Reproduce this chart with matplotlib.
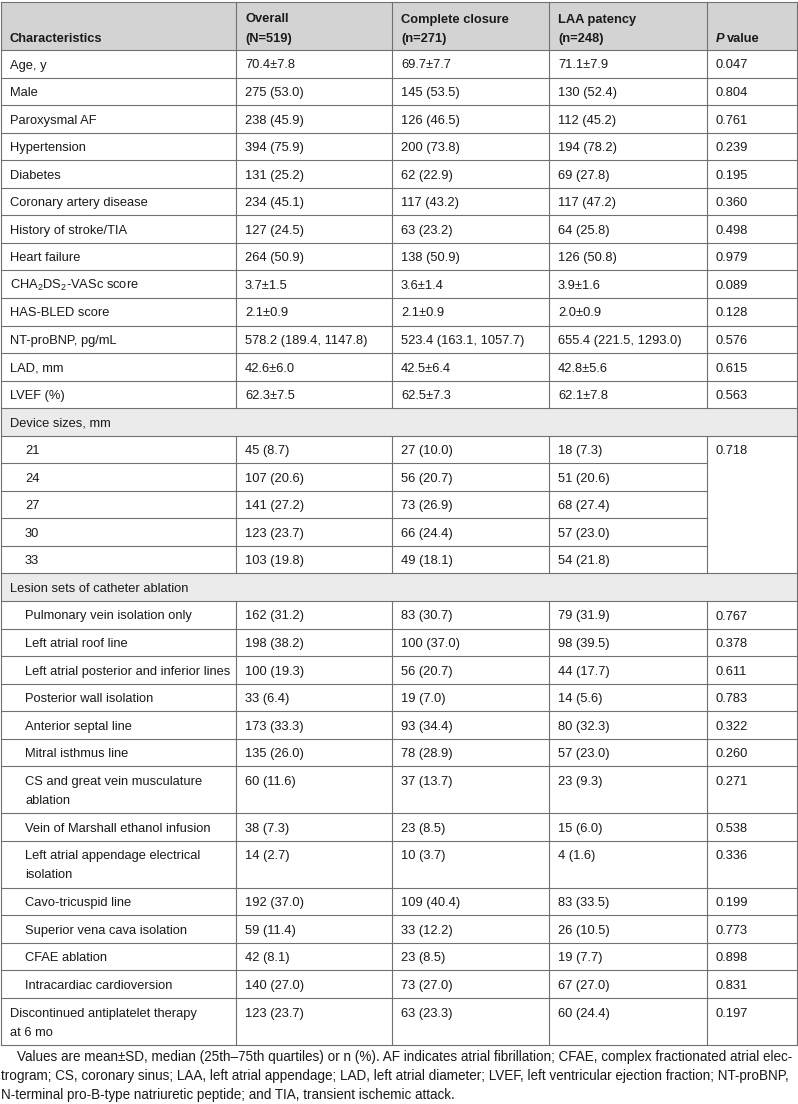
import matplotlib
matplotlib.use('Agg')
import matplotlib.pyplot as plt
from matplotlib.patches import Rectangle

plt.rcParams['font.family'] = ['Liberation Sans', 'DejaVu Sans']
plt.rcParams['mathtext.fontset'] = 'custom'
plt.rcParams['mathtext.rm'] = 'Liberation Sans'
plt.rcParams['mathtext.it'] = 'Liberation Sans:italic'
plt.rcParams['mathtext.bf'] = 'Liberation Sans:bold'

# ---------------- data ----------------
headers = ["Characteristics", "Overall\n(N=519)", "Complete closure\n(n=271)",
           "LAA patency\n(n=248)", "P value"]

characteristics = [
    "Age, y", "Male", "Paroxysmal AF", "Hypertension", "Diabetes",
    "Coronary artery disease", "History of stroke/TIA", "Heart failure",
    "CHA$_2$DS$_2$-VASc score", "HAS-BLED score", "NT-proBNP, pg/mL",
    "LAD, mm", "LVEF (%)",
    "Device sizes, mm", "21", "24", "27", "30", "33",
    "Lesion sets of catheter ablation",
    "Pulmonary vein isolation only", "Left atrial roof line",
    "Left atrial posterior and inferior lines", "Posterior wall isolation",
    "Anterior septal line", "Mitral isthmus line",
    "CS and great vein musculature\nablation",
    "Vein of Marshall ethanol infusion",
    "Left atrial appendage electrical\nisolation",
    "Cavo-tricuspid line", "Superior vena cava isolation", "CFAE ablation",
    "Intracardiac cardioversion",
    "Discontinued antiplatelet therapy\nat 6 mo",
]

overall = [
    "70.4±7.8", "275 (53.0)", "238 (45.9)", "394 (75.9)", "131 (25.2)",
    "234 (45.1)", "127 (24.5)", "264 (50.9)", "3.7±1.5", "2.1±0.9",
    "578.2 (189.4, 1147.8)", "42.6±6.0", "62.3±7.5",
    "", "45 (8.7)", "107 (20.6)", "141 (27.2)", "123 (23.7)", "103 (19.8)",
    "",
    "162 (31.2)", "198 (38.2)", "100 (19.3)", "33 (6.4)", "173 (33.3)",
    "135 (26.0)", "60 (11.6)", "38 (7.3)", "14 (2.7)", "192 (37.0)",
    "59 (11.4)", "42 (8.1)", "140 (27.0)", "123 (23.7)",
]

complete_closure = [
    "69.7±7.7", "145 (53.5)", "126 (46.5)", "200 (73.8)", "62 (22.9)",
    "117 (43.2)", "63 (23.2)", "138 (50.9)", "3.6±1.4", "2.1±0.9",
    "523.4 (163.1, 1057.7)", "42.5±6.4", "62.5±7.3",
    "", "27 (10.0)", "56 (20.7)", "73 (26.9)", "66 (24.4)", "49 (18.1)",
    "",
    "83 (30.7)", "100 (37.0)", "56 (20.7)", "19 (7.0)", "93 (34.4)",
    "78 (28.9)", "37 (13.7)", "23 (8.5)", "10 (3.7)", "109 (40.4)",
    "33 (12.2)", "23 (8.5)", "73 (27.0)", "63 (23.3)",
]

laa_patency = [
    "71.1±7.9", "130 (52.4)", "112 (45.2)", "194 (78.2)", "69 (27.8)",
    "117 (47.2)", "64 (25.8)", "126 (50.8)", "3.9±1.6", "2.0±0.9",
    "655.4 (221.5, 1293.0)", "42.8±5.6", "62.1±7.8",
    "", "18 (7.3)", "51 (20.6)", "68 (27.4)", "57 (23.0)", "54 (21.8)",
    "",
    "79 (31.9)", "98 (39.5)", "44 (17.7)", "14 (5.6)", "80 (32.3)",
    "57 (23.0)", "23 (9.3)", "15 (6.0)", "4 (1.6)", "83 (33.5)",
    "26 (10.5)", "19 (7.7)", "67 (27.0)", "60 (24.4)",
]

p_values = [
    "0.047", "0.804", "0.761", "0.239", "0.195", "0.360", "0.498", "0.979",
    "0.089", "0.128", "0.576", "0.615", "0.563",
    "", "0.718", "", "", "", "",
    "",
    "0.767", "0.378", "0.611", "0.783", "0.322", "0.260", "0.271", "0.538",
    "0.336", "0.199", "0.773", "0.898", "0.831", "0.197",
]

# row kinds: n = normal, s = section header, i = indented sub-row
row_kinds = (["n"] * 13 + ["s"] + ["i"] * 5 + ["s"] + ["i"] * 13 + ["n"])
merged_p_rows = [14, 15, 16, 17, 18]   # device sizes share one P value cell

footnote = [
    "Values are mean±SD, median (25th–75th quartiles) or n (%). AF indicates atrial fibrillation; CFAE, complex fractionated atrial elec-",
    "trogram; CS, coronary sinus; LAA, left atrial appendage; LAD, left atrial diameter; LVEF, left ventricular ejection fraction; NT-proBNP,",
    "N-terminal pro-B-type natriuretic peptide; and TIA, transient ischemic attack.",
]

# ---------------- layout ----------------
W, H = 798, 1104
fig = plt.figure(figsize=(W / 100, H / 100), dpi=100)
ax = fig.add_axes([0, 0, 1, 1])
ax.set_xlim(0, W)
ax.set_ylim(H, 0)
ax.axis('off')

col_x = [1, 236, 392, 549, 707, 797]
top = 2
header_bot = 50
single_h = 27.55
double_h = 47.0
line_gap = 19.0
fs = 9.3
txt_col = '#1a1a1a'
line_col = '#707070'
lw = 0.8

# header
ax.add_patch(Rectangle((col_x[0], top), col_x[-1] - col_x[0], header_bot - top,
                       facecolor='#d3d3d3', edgecolor='none', zorder=0))
for j, h in enumerate(headers):
    parts = h.split("\n")
    x = col_x[j] + 9
    if len(parts) == 2:
        ax.text(x, 22.5, parts[0], fontsize=fs, fontweight='bold', color=txt_col, va='baseline')
        ax.text(x, 42.0, parts[1], fontsize=fs, fontweight='bold', color=txt_col, va='baseline')
    elif j == 4:
        first, rest = parts[0].split(" ", 1)
        ax.text(x, 42.0, first, fontsize=fs, fontweight='bold',
                fontstyle='italic', color=txt_col, va='baseline')
        ax.text(x + 10.5, 42.0, rest, fontsize=fs, fontweight='bold', color=txt_col, va='baseline')
    else:
        ax.text(x, 42.0, parts[0], fontsize=fs, fontweight='bold', color=txt_col, va='baseline')

ax.plot([col_x[0], col_x[-1]], [top, top], color=line_col, lw=lw)
ax.plot([col_x[0], col_x[-1]], [header_bot, header_bot], color=line_col, lw=lw)
for xv in col_x[1:-1]:
    ax.plot([xv, xv], [top, header_bot], color=line_col, lw=lw)

y = header_bot
for i, lab in enumerate(characteristics):
    nlines = lab.count("\n") + 1
    h = single_h if nlines == 1 else double_h
    y0, y1 = y, y + h
    kind = row_kinds[i]
    if kind == 's':
        ax.add_patch(Rectangle((col_x[0], y0), col_x[-1] - col_x[0], h,
                               facecolor='#ebebeb', edgecolor='none', zorder=0))
    else:
        for xv in col_x[1:-1]:
            ax.plot([xv, xv], [y0, y1], color=line_col, lw=lw)
    if i in merged_p_rows[:-1]:
        ax.plot([col_x[0], col_x[4]], [y1, y1], color=line_col, lw=lw)
    else:
        ax.plot([col_x[0], col_x[-1]], [y1, y1], color=line_col, lw=lw)

    base = y0 + 18.5
    lx = col_x[0] + 9 + (15 if kind == 'i' else 0)
    for li, part in enumerate(lab.split("\n")):
        ax.text(lx, base + li * line_gap, part, fontsize=fs, color=txt_col, va='baseline')
    for j, vals in enumerate([overall, complete_closure, laa_patency, p_values]):
        if vals[i]:
            ax.text(col_x[j + 1] + 9, base, vals[i], fontsize=fs, color=txt_col, va='baseline')
    y = y1

table_bot = y
for xv in (col_x[0], col_x[-1]):
    ax.plot([xv, xv], [top, table_bot], color=line_col, lw=lw)

# footnote: size chosen so the justified lines fit the width
fb = [1061, 1080, 1099]
fx = [17, 1, 1]
renderer = fig.canvas.get_renderer()
sizes = []
for k in (0, 1):
    probe = ax.text(fx[k], fb[k], footnote[k], fontsize=10, color=txt_col, va='baseline')
    wpx = probe.get_window_extent(renderer).width
    probe.remove()
    sizes.append(10 * (795 - fx[k]) / wpx)
foot_fs = min(sizes)
for k, line in enumerate(footnote):
    ax.text(fx[k], fb[k], line, fontsize=foot_fs, color=txt_col, va='baseline')

fig.savefig('out.png', dpi=100, facecolor='white')
